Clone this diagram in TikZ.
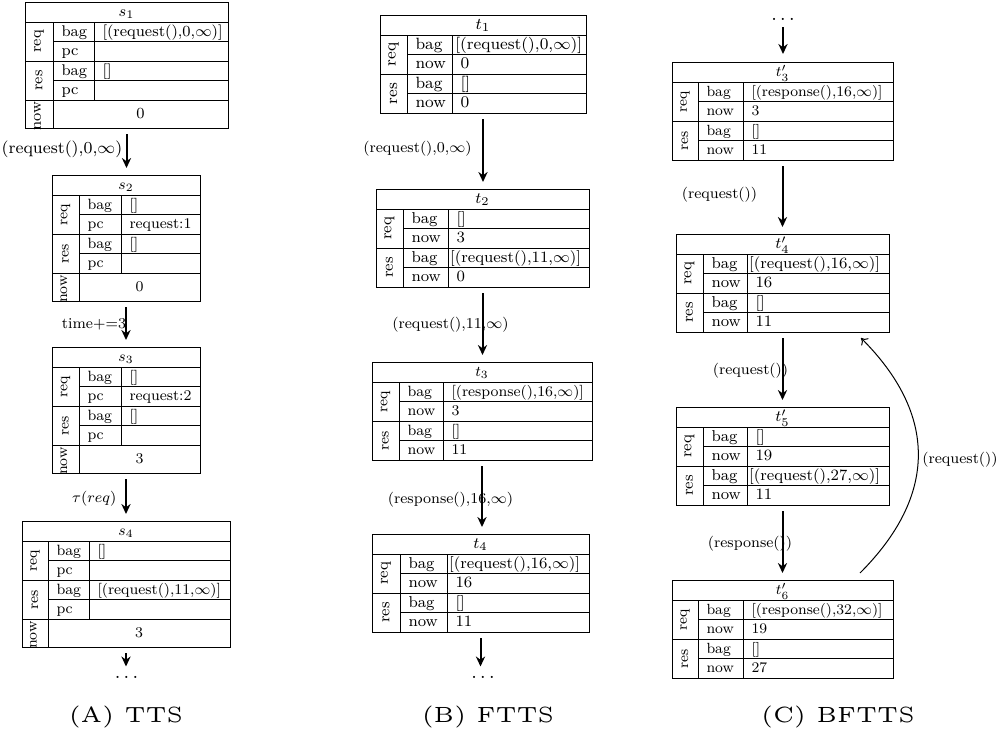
\documentclass[tikz,border=0pt]{standalone}
\usepackage{graphicx}
\usetikzlibrary{arrows.meta,fit,calc}
\newcommand\setT[6]{\def\tL{#1}\def\tT{#2}\def\tA{#3}\def\tB{#4}\def\tR{#5}\def\tK{#6}}
\newcommand\tx[1]{\scalebox{\tK}{\fontsize{8}{9.6}\selectfont #1}}
\newcommand\lb[2]{\scalebox{#1}{\fontsize{8}{9.6}\selectfont #2}}
\newcommand\capt[1]{\scalebox{2.2}{\fontsize{5}{6}\selectfont #1}}
\newcommand\sh{\hspace*{-3.2pt}}
\newcommand\optnode[3]{\if\relax\detokenize{#3}\relax\else\node[cell] (#1) at (#2) {\tx{#3}};\fi}
\tikzset{
  tbl/.style={draw, line width=0.5pt, inner sep=0pt, outer sep=0pt},
  grid/.style={line width=0.5pt},
  cell/.style={inner sep=0pt, outer sep=0pt, anchor=base west},
  ttl/.style={inner sep=0pt, anchor=base},
  side/.style={inner sep=0pt, rotate=90},
  mid/.style={inner sep=0pt},
  flow/.style={-{Stealth[length=5pt,width=4.6pt]}, line width=1pt, shorten <=3pt, shorten >=3.5pt},
  back/.style={-{To[length=3pt,width=5pt]}, line width=0.5pt},
  lbl/.style={inner sep=0pt},
  dotsn/.style={inner sep=0pt, anchor=base},
  captn/.style={inner sep=0pt, anchor=base},
}
% TTS table: name, title, reqbag, reqpc, resbag, respc, now
\newcommand\ttsTable[7]{%
  \coordinate (#1-nw) at (\tL,\tT);
  \coordinate (#1-se) at (\tR,\tT+126);
  \node[tbl, fit=(#1-nw)(#1-se)] (#1) {};
  \draw[grid] (\tL,\tT+20) -- (\tR,\tT+20)
    (\tA,\tT+39.5) -- (\tR,\tT+39.5)
    (\tL,\tT+59) -- (\tR,\tT+59)
    (\tA,\tT+78.5) -- (\tR,\tT+78.5)
    (\tL,\tT+98) -- (\tR,\tT+98)
    (\tA,\tT+20) -- (\tA,\tT+126)
    (\tB,\tT+20) -- (\tB,\tT+98);
  \node[ttl] (#1-ti) at ({(\tL+\tR)/2},\tT+14.7) {\tx{#2}};
  \node[side] (#1-q) at ({(\tL+\tA)/2},\tT+39.5) {\tx{req}};
  \node[side] (#1-s) at ({(\tL+\tA)/2},\tT+78.5) {\tx{res}};
  \node[side] (#1-n) at ({(\tL+\tA)/2-1.5},\tT+114) {\tx{now}};
  \node[cell] (#1-k1) at (\tA+8.5,\tT+34) {\tx{bag}};
  \node[cell] (#1-k2) at (\tA+8.5,\tT+53.5) {\tx{pc}};
  \node[cell] (#1-k3) at (\tA+8.5,\tT+73) {\tx{bag}};
  \node[cell] (#1-k4) at (\tA+8.5,\tT+92.5) {\tx{pc}};
  \optnode{#1-v1}{\tB+8.5,\tT+34}{#3}
  \optnode{#1-v2}{\tB+8.5,\tT+53.5}{#4}
  \optnode{#1-v3}{\tB+8.5,\tT+73}{#5}
  \optnode{#1-v4}{\tB+8.5,\tT+92.5}{#6}
  \node[mid] (#1-v5) at ({(\tA+\tR)/2},\tT+112) {\tx{#7}};
}
% FTTS table: name, title, reqbag, reqnow, resbag, resnow
\newcommand\fttsTable[6]{%
  \coordinate (#1-nw) at (\tL,\tT);
  \coordinate (#1-se) at (\tR,\tT+98);
  \node[tbl, fit=(#1-nw)(#1-se)] (#1) {};
  \draw[grid] (\tL,\tT+20) -- (\tR,\tT+20)
    (\tA,\tT+39.5) -- (\tR,\tT+39.5)
    (\tL,\tT+59) -- (\tR,\tT+59)
    (\tA,\tT+78.5) -- (\tR,\tT+78.5)
    (\tA,\tT+20) -- (\tA,\tT+98)
    (\tB,\tT+20) -- (\tB,\tT+98);
  \node[ttl] (#1-ti) at ({(\tL+\tR)/2},\tT+14.7) {\tx{#2}};
  \node[side] (#1-q) at ({(\tL+\tA)/2},\tT+39.5) {\tx{req}};
  \node[side] (#1-s) at ({(\tL+\tA)/2},\tT+78.5) {\tx{res}};
  \node[cell] (#1-k1) at (\tA+8.5,\tT+34) {\tx{bag}};
  \node[cell] (#1-k2) at (\tA+8.5,\tT+53.5) {\tx{now}};
  \node[cell] (#1-k3) at (\tA+8.5,\tT+73) {\tx{bag}};
  \node[cell] (#1-k4) at (\tA+8.5,\tT+92.5) {\tx{now}};
  \node[cell] (#1-v1) at (\tB+8.5,\tT+34) {\tx{#3}};
  \node[cell] (#1-v2) at (\tB+8.5,\tT+53.5) {\tx{#4}};
  \node[cell] (#1-v3) at (\tB+8.5,\tT+73) {\tx{#5}};
  \node[cell] (#1-v4) at (\tB+8.5,\tT+92.5) {\tx{#6}};
}
\begin{document}
\begin{tikzpicture}[x=0.5pt,y=-0.5pt]
\useasboundingbox (0,0) rectangle (1000,734);
% ---------- (A) TTS ----------
\setT{25}{2}{53}{94}{228}{0.967}
\ttsTable{s1}{$s_1$}{[(request(),0,$\infty$)]}{}{[]}{}{0}
\setT{52}{175}{79}{121}{200}{0.93}
\ttsTable{s2}{$s_2$}{[]}{request:1}{[]}{}{0}
\setT{52}{347}{79}{121}{200}{0.93}
\ttsTable{s3}{$s_3$}{[]}{request:2}{[]}{}{3}
\setT{22}{521}{48}{89}{230}{0.93}
\ttsTable{s4}{$s_4$}{[]}{}{[(request(),11,$\infty$)]}{}{3}
\node[dotsn] (dA) at (126.5,678) {$\dots$};
\draw[flow] (s1) -- (s1 |- s2.north);
\draw[flow] (s2) -- (s2 |- s3.north);
\draw[flow] (s3) -- (s3 |- s4.north);
\draw[flow, shorten >=4.5pt] (s4) -- (s4 |- dA.north);
\node[lbl] (la1) at (62,149) {\lb{1.05}{(request(),0,$\infty$)}};
\node[lbl] (la2) at (94,324) {\lb{0.943}{time+=3}};
\node[lbl] (la3) at (94.3,499) {\lb{0.943}{$\tau(req)$}};
% ---------- (B) FTTS ----------
\setT{380}{15}{407}{452}{586}{1.02}
\fttsTable{t1}{$t_1$}{\hspace*{-2.5pt}[(request(),0,$\infty$)]}{0}{[]}{0}
\setT{376}{189}{403}{448}{589}{0.985}
\fttsTable{t2}{$t_2$}{[]}{3}{\sh[(request(),11,$\infty$)]}{0}
\setT{372}{362}{399}{443}{592}{0.93}
\fttsTable{t3}{$t_3$}{[(response(),16,$\infty$)]}{3}{[]}{11}
\setT{372}{534}{400}{447}{589}{0.985}
\fttsTable{t4}{$t_4$}{\sh[(request(),16,$\infty$)]}{16}{[]}{11}
\node[dotsn] (dB) at (483,678) {$\dots$};
\draw[flow] (t1) -- (t1 |- t2.north);
\draw[flow] (t2) -- (t2 |- t3.north);
\draw[flow] (t3) -- (t3 |- t4.north);
\draw[flow, shorten >=4.5pt] (t4) -- (t4 |- dB.north);
\node[lbl] (lb1) at (417.5,149) {\lb{0.943}{(request(),0,$\infty$)}};
\node[lbl] (lb2) at (450.5,325) {\lb{0.943}{(request(),11,$\infty$)}};
\node[lbl] (lb3) at (450.5,500) {\lb{0.943}{(response(),16,$\infty$)}};
% ---------- (C) BFTTS ----------
\setT{672}{62}{698}{743}{893}{0.92}
\fttsTable{t3p}{$t'_3$}{[(response(),16,$\infty$)]}{3}{[]}{11}
\setT{676}{234}{703}{747}{889}{0.985}
\fttsTable{t4p}{$t'_4$}{\sh[(request(),16,$\infty$)]}{16}{[]}{11}
\setT{676}{407}{703}{747}{889}{0.985}
\fttsTable{t5p}{$t'_5$}{[]}{19}{\sh[(request(),27,$\infty$)]}{11}
\setT{672}{580}{698}{743}{893}{0.92}
\fttsTable{t6p}{$t'_6$}{[(response(),32,$\infty$)]}{19}{[]}{27}
\node[dotsn] (dC) at (783,20) {$\dots$};
\draw[flow, shorten <=3.5pt, shorten >=4pt] (dC) -- (dC |- t3p.north);
\draw[flow] (t3p) -- (t3p |- t4p.north);
\draw[flow] (t4p) -- (t4p |- t5p.north);
\draw[flow] (t5p) -- (t5p |- t6p.north);
\coordinate (cs) at ($(t6p.north east)+(-33,-7)$);
\coordinate (ce) at ($(t4p.south east)+(-28,6)$);
\draw[back] (cs) .. controls ($(cs)+(77,-77)$) and ($(ce)+(77,77)$) .. (ce);
\node[lbl] (lc1) at (719.5,195) {\lb{0.943}{(request())}};
\node[lbl] (lc2) at (750.5,371) {\lb{0.943}{(request())}};
\node[lbl] (lc3) at (750,544) {\lb{0.943}{(response())}};
\node[lbl] (lc4) at (960,460) {\lb{0.943}{(request())}};
% ---------- captions ----------
\node[captn] (capA) at (126,722) {\capt{(A) TTS}};
\node[captn] (capB) at (488,722) {\capt{(B) FTTS}};
\node[captn] (capC) at (838,722) {\capt{(C) BFTTS}};
\end{tikzpicture}
\end{document}
